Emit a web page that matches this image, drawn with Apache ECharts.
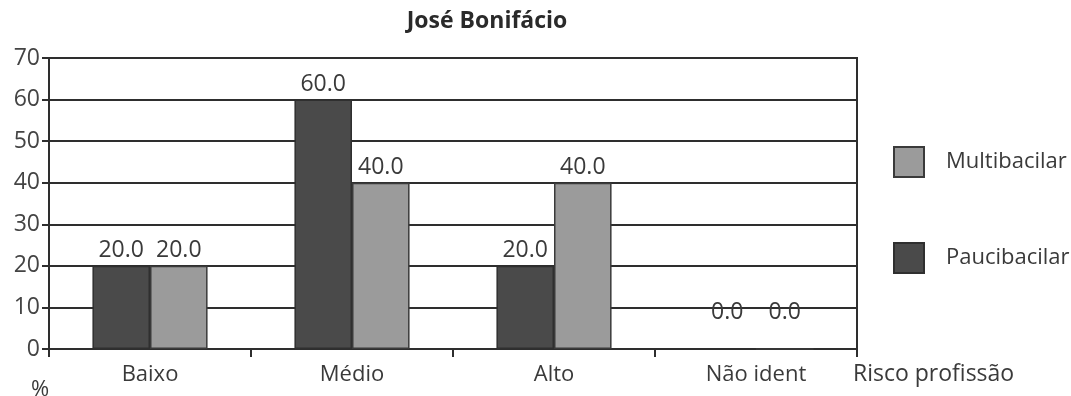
<!DOCTYPE html>
<html>
<head>
<meta charset="utf-8">
<script src="https://cdn.jsdelivr.net/npm/echarts@6/dist/echarts.min.js"></script>
<style>
  html, body { margin: 0; padding: 0; background: #ffffff; }
  #chart { width: 1071px; height: 396px; }
</style>
</head>
<body>
<div id="chart"></div>
<script>
// Risk category of profession, share of cases (%)
const categories = ['Baixo', 'Médio', 'Alto', 'Não ident'];
const paucibacilar = [20.0, 60.0, 20.0, 0.0];
const multibacilar = [20.0, 40.0, 40.0, 0.0];
const yTicks = [0, 10, 20, 30, 40, 50, 60, 70];

const FONT = '"Open Sans", "DejaVu Sans", sans-serif';
const TEXT = '#3a3a3a';
const LINE = '#2e2e2e';

// zero-height bars get their label lifted off the baseline
function barData(values) {
  return values.map(v => v === 0
    ? { value: v, label: { offset: [0, -20] } }
    : v);
}

const barLabel = {
  show: true,
  position: 'top',
  distance: 4,
  fontFamily: FONT,
  fontSize: 23,
  color: TEXT,
  formatter: p => Number(p.value).toFixed(1)
};

const chart = echarts.init(document.getElementById('chart'), null, { renderer: 'canvas' });
chart.setOption({
  backgroundColor: '#ffffff',
  animation: false,
  title: {
    text: 'José Bonifácio',
    left: 482,
    textAlign: 'center',
    top: 5,
    textStyle: { fontFamily: FONT, fontSize: 23, fontWeight: 'bold', color: '#2a2a2a' }
  },
  legend: {
    orient: 'vertical',
    left: 888,
    top: 141,
    icon: 'rect',
    itemWidth: 30,
    itemHeight: 30,
    itemGap: 64,
    data: ['Multibacilar', 'Paucibacilar'],
    textStyle: { fontFamily: FONT, fontSize: 22, color: TEXT, padding: [0, 0, 0, 17] }
  },
  grid: {
    left: 49, right: 214, top: 58, bottom: 47,
    outerBoundsMode: 'none',
    containLabel: false,
    show: true,
    borderColor: LINE,
    borderWidth: 2,
    backgroundColor: 'transparent'
  },
  xAxis: {
    type: 'category',
    data: categories,
    name: 'Risco profissão',
    nameLocation: 'end',
    nameGap: -4,
    nameTextStyle: {
      fontFamily: FONT, fontSize: 23, color: TEXT,
      verticalAlign: 'top', padding: [14, 0, 0, 0]
    },
    axisLine: { lineStyle: { color: LINE, width: 2 } },
    axisTick: { show: true, alignWithLabel: false, length: 8, lineStyle: { color: LINE, width: 2 } },
    axisLabel: { fontFamily: FONT, fontSize: 22, color: TEXT, margin: 15 }
  },
  yAxis: {
    type: 'value',
    min: 0,
    max: 70,
    interval: 10,
    name: '%',
    nameLocation: 'start',
    nameGap: 30,
    nameTextStyle: { fontFamily: FONT, fontSize: 22, color: TEXT, padding: [0, 18, 0, 0] },
    axisLine: { show: true, lineStyle: { color: LINE, width: 2 } },
    axisTick: { show: true, length: 7, lineStyle: { color: LINE, width: 2 } },
    axisLabel: {
      fontFamily: FONT, fontSize: 23, color: '#444444', margin: 9,
      formatter: v => yTicks.includes(v) ? String(v) : ''
    },
    splitLine: { show: true, lineStyle: { color: LINE, width: 2 } }
  },
  series: [
    {
      name: 'Paucibacilar',
      type: 'bar',
      data: barData(paucibacilar),
      barGap: '0%',
      barCategoryGap: '43%',
      itemStyle: { color: '#4a4a4a', borderColor: '#2f2f2f', borderWidth: 1.5 },
      label: barLabel
    },
    {
      name: 'Multibacilar',
      type: 'bar',
      data: barData(multibacilar),
      barGap: '0%',
      barCategoryGap: '43%',
      itemStyle: { color: '#9b9b9b', borderColor: '#3a3a3a', borderWidth: 1.5 },
      label: barLabel
    }
  ]
});
</script>
</body>
</html>
